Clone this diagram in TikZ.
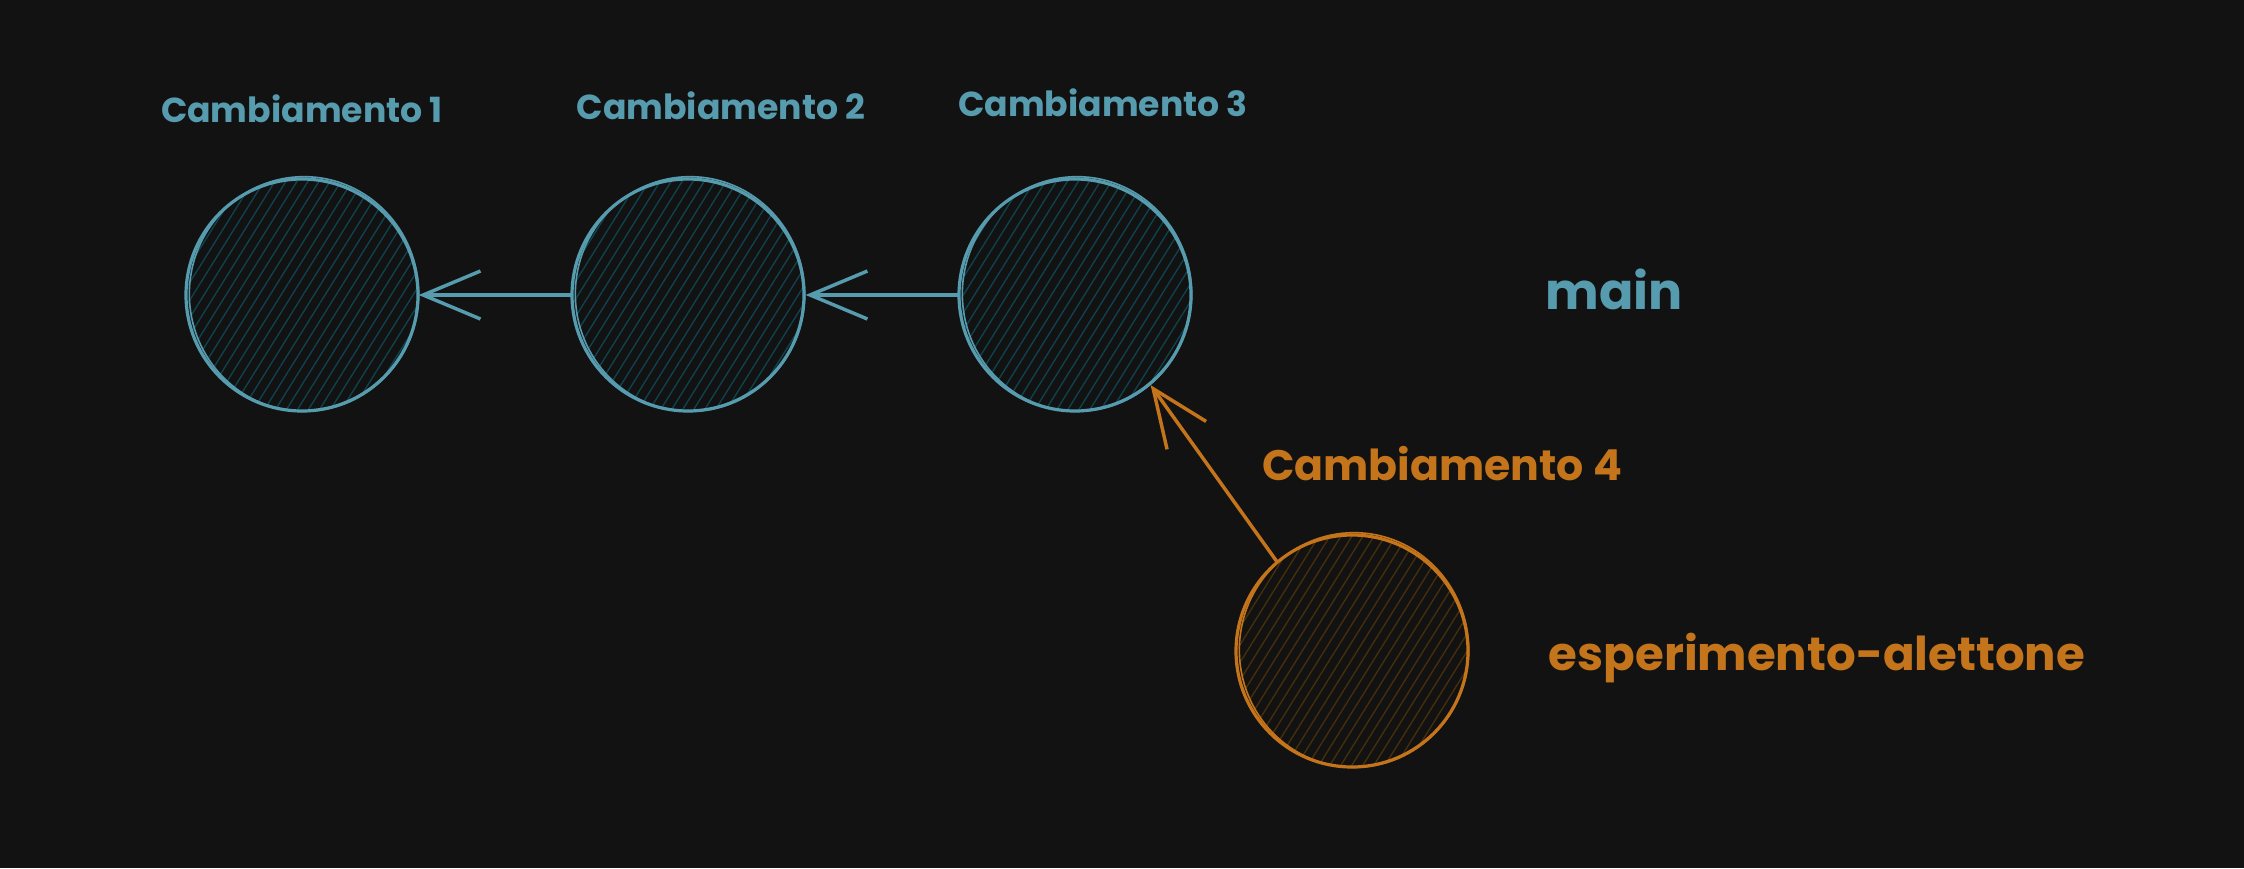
\documentclass[tikz,border=0pt]{standalone}
\usepackage{fontspec}
\setmainfont{Poppins}
\usetikzlibrary{arrows.meta,patterns.meta}

\definecolor{bgdark}{RGB}{18,18,18}
\definecolor{mainblue}{RGB}{86,155,174}
\definecolor{hatchblue}{RGB}{14,68,78}
\definecolor{branchorange}{RGB}{196,116,26}
\definecolor{hatchorange}{RGB}{70,48,12}

\tikzset{
  commit/.style={circle, minimum size=174pt, inner sep=0pt, draw=mainblue, line width=2.4pt,
    pattern={Lines[angle=58,distance=7pt,line width=1pt]}, pattern color=hatchblue},
  branchcommit/.style={commit, draw=branchorange, pattern color=hatchorange},
  sketch/.style={draw=#1, line width=1.2pt},
  link/.style={draw=mainblue, line width=2.6pt, line cap=round, -{Straight Barb[length=43pt,width=36pt]}},
  branchlink/.style={link, draw=branchorange},
  commitlabel/.style={text=mainblue, font=\bfseries\fontsize{26}{30}\selectfont},
  branchlabel/.style={text=branchorange, font=\bfseries\fontsize{32}{38}\selectfont},
}

\begin{document}
\begin{tikzpicture}[x=0.75pt,y=0.75pt,yscale=-1,xscale=1]
  % background
  \fill[bgdark] (0,0) rectangle (2244,868);
  \useasboundingbox (0,0) rectangle (2244,868);

  % commits on main
  \node[commit] (c1) at (302,295) {};
  \node[commit] (c2) at (688,295) {};
  \node[commit] (c3) at (1075,295) {};
  % commit on the branch
  \node[branchcommit] (c4) at (1352,651) {};

  % second pencil stroke
  \foreach \c/\col in {c1/mainblue,c2/mainblue,c3/mainblue,c4/branchorange}
    \draw[sketch=\col] ([shift={(2,-1)}]\c.center) ellipse [x radius=86pt, y radius=88pt];

  % parent links
  \draw[link] (c2.west) -- (c1.east);
  \draw[link] (c3.west) -- (c2.east);
  \draw[branchlink] (c4.130) -- (c3.-50);

  % labels
  \node[commitlabel] (l1) at (302,109) {Cambiamento 1};
  \node[commitlabel] (l2) at (721,106) {Cambiamento 2};
  \node[commitlabel] (l3) at (1103,103) {Cambiamento 3};
  \node[commitlabel, font=\bfseries\fontsize{38}{44}\selectfont] (main) at (1614,289) {main};
  \node[branchlabel] (l4) at (1442,464) {Cambiamento 4};
  \node[branchlabel, font=\bfseries\fontsize{35}{40}\selectfont] (branch) at (1817,658) {esperimento-alettone};
\end{tikzpicture}
\end{document}
